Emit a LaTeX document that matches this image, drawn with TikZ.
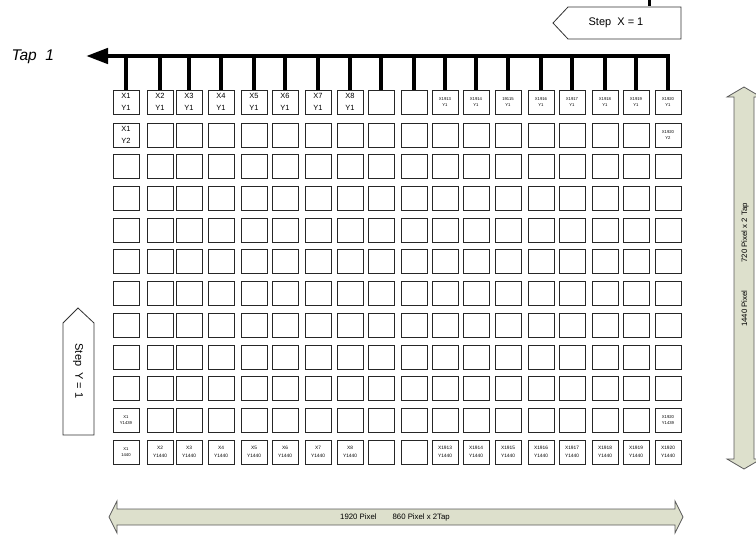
\documentclass[tikz,border=0pt]{standalone}
\usepackage{fontspec}
\setmainfont{Liberation Sans}
\usetikzlibrary{arrows.meta}
\definecolor{arrowfill}{RGB}{221,224,204}
\definecolor{arrowline}{RGB}{90,90,90}
\newcommand{\bigf}{\fontsize{7.5}{11.5}\selectfont}
\newcommand{\tinyf}{\fontsize{4.2}{6.5}\selectfont}
\newcommand{\smallf}{\fontsize{4.8}{7.5}\selectfont}
\newcommand{\setlab}[4]{\expandafter\def\csname lab#1-#2\endcsname{#4}\expandafter\def\csname fnt#1-#2\endcsname{#3}}
% labels
\setlab{1}{1}{\bigf}{X1\\Y1}
\setlab{1}{2}{\bigf}{X2\\Y1}
\setlab{1}{3}{\bigf}{X3\\Y1}
\setlab{1}{4}{\bigf}{X4\\Y1}
\setlab{1}{5}{\bigf}{X5\\Y1}
\setlab{1}{6}{\bigf}{X6\\Y1}
\setlab{1}{7}{\bigf}{X7\\Y1}
\setlab{1}{8}{\bigf}{X8\\Y1}
\setlab{2}{1}{\bigf}{X1\\Y2}
\setlab{1}{11}{\tinyf}{X1913\\Y1}
\setlab{1}{12}{\tinyf}{X1914\\Y1}
\setlab{1}{13}{\tinyf}{19115\\Y1}
\setlab{1}{14}{\tinyf}{X1916\\Y1}
\setlab{1}{15}{\tinyf}{X1917\\Y1}
\setlab{1}{16}{\tinyf}{X1918\\Y1}
\setlab{1}{17}{\tinyf}{X1919\\Y1}
\setlab{1}{18}{\tinyf}{X1920\\Y1}
\setlab{2}{18}{\tinyf}{X1920\\Y2}
\setlab{11}{1}{\tinyf}{X1\\Y1439}
\setlab{11}{18}{\tinyf}{X1920\\Y1439}
\setlab{12}{1}{\tinyf}{X1\\1440}
\setlab{12}{2}{\smallf}{X2\\Y1440}
\setlab{12}{3}{\smallf}{X3\\Y1440}
\setlab{12}{4}{\smallf}{X4\\Y1440}
\setlab{12}{5}{\smallf}{X5\\Y1440}
\setlab{12}{6}{\smallf}{X6\\Y1440}
\setlab{12}{7}{\smallf}{X7\\Y1440}
\setlab{12}{8}{\smallf}{X8\\Y1440}
\setlab{12}{11}{\smallf}{X1913\\Y1440}
\setlab{12}{12}{\smallf}{X1914\\Y1440}
\setlab{12}{13}{\smallf}{X1915\\Y1440}
\setlab{12}{14}{\smallf}{X1916\\Y1440}
\setlab{12}{15}{\smallf}{X1917\\Y1440}
\setlab{12}{16}{\smallf}{X1918\\Y1440}
\setlab{12}{17}{\smallf}{X1919\\Y1440}
\setlab{12}{18}{\smallf}{X1920\\Y1440}
\tikzset{
  pix/.style={draw=black!85, line width=0.9pt, minimum width=26pt, minimum height=24pt, inner sep=0pt, align=center, fill=white},
  bus/.style={line width=4.5pt, line join=miter},
  bigarrow/.style={draw=arrowline, fill=arrowfill, line width=0.8pt},
  stepbox/.style={draw=black!80, fill=white, line width=0.8pt},
  steptext/.style={font=\fontsize{11}{13}\selectfont},
  dimtext/.style={font=\fontsize{7.8}{9}\selectfont},
}
\begin{document}
\begin{tikzpicture}[x=1pt,y=-1pt]
\useasboundingbox (0,0) rectangle (756,536);
% grid of pixel boxes
\foreach \x [count=\c] in {126,160,189,221,254,285,318,350,381,414,445,476,508,541,572,605,636,668} {
  \foreach \y [count=\r] in {102,135,166,198,230,261,293,325,357,388,420,452} {
    \node[pix, font=\ifcsname fnt\r-\c\endcsname\csname fnt\r-\c\endcsname\else\bigf\fi] (b-\r-\c) at (\x,\y)
      {\ifcsname lab\r-\c\endcsname\csname lab\r-\c\endcsname\fi};
  }
}
% Tap 1 bus
\coordinate (busR) at (668,56);
\coordinate (tip) at (86,56);
\draw[bus, -{Triangle[length=22pt,width=15pt]}] (b-1-18.north) -- (busR) -- (tip);
\foreach \c in {1,...,17} {
  \draw[bus] (b-1-\c.north) -- (b-1-\c.north |- busR);
}
\node[font=\fontsize{15.5}{17}\selectfont\itshape, anchor=west] (tap) at (8,57) {Tap\ \ 1};
% small tick at top
\draw[line width=3pt] (649,0) -- (649,6);
% Step X = 1
\draw[stepbox] (553,23) -- (568,7) -- (681,7) -- (681,39) -- (568,39) -- cycle;
\node[steptext] (stepx) at (616,23) {Step\ \ X = 1};
% Step Y = 1
\draw[stepbox] (78,308) -- (94,323) -- (94,435) -- (63,435) -- (63,323) -- cycle;
\node[steptext, rotate=-90] (stepy) at (78,371) {Step\ \ Y = 1};
% right vertical double arrow
\draw[bigarrow] (734,97) -- (727,97) -- (744,87) -- (761,97) -- (754,97) -- (754,459) -- (761,459) -- (744,469) -- (727,459) -- (734,459) -- cycle;
\node[dimtext, rotate=90] (vtext) at (745,265) {1440 Pixel\hspace{28pt}720 Pixel x 2 Tap};
% bottom horizontal double arrow
\draw[bigarrow] (117,509) -- (117,501) -- (109,517) -- (117,533) -- (117,525) -- (675,525) -- (675,533) -- (683,517) -- (675,501) -- (675,509) -- cycle;
\node[dimtext] (htext) at (395,517) {1920 Pixel\hspace{16pt}860 Pixel x 2Tap};
\end{tikzpicture}
\end{document}
